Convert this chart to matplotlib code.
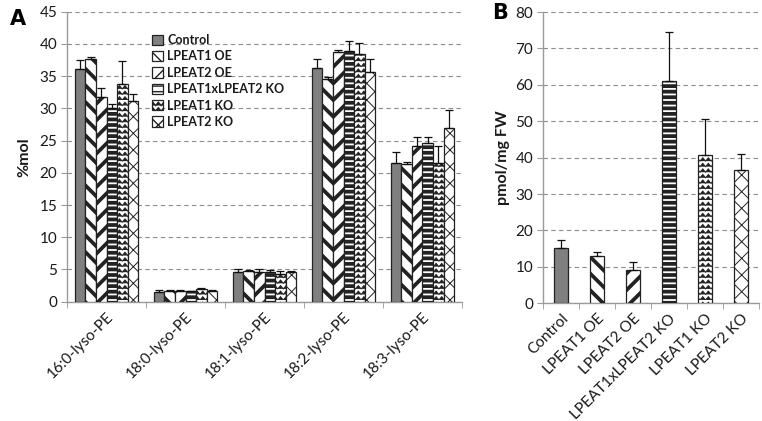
import warnings
warnings.filterwarnings('ignore')
import numpy as np
import matplotlib
matplotlib.use('Agg')
import matplotlib.pyplot as plt
from matplotlib import hatch as mhatch
from matplotlib.path import Path

# ---------------- data ----------------
groups_A = ['16:0-lyso-PE', '18:0-lyso-PE', '18:1-lyso-PE', '18:2-lyso-PE', '18:3-lyso-PE']
lines = ['Control', 'LPEAT1 OE', 'LPEAT2 OE', 'LPEAT1xLPEAT2 KO', 'LPEAT1 KO', 'LPEAT2 KO']

control_A = [36.1, 1.5, 4.6, 36.3, 21.5]
control_A_err = [1.4, 0.3, 0.5, 1.4, 1.7]
lpeat1oe_A = [37.7, 1.6, 4.7, 34.6, 21.4]
lpeat1oe_A_err = [0.3, 0.2, 0.2, 0.3, 0.3]
lpeat2oe_A = [31.7, 1.6, 4.6, 38.7, 24.2]
lpeat2oe_A_err = [1.5, 0.2, 0.4, 0.3, 1.4]
dko_A = [30.0, 1.6, 4.6, 38.9, 24.7]
dko_A_err = [0.7, 0.1, 0.3, 1.6, 0.8]
ko1_A = [33.8, 2.0, 4.3, 38.5, 21.5]
ko1_A_err = [3.5, 0.2, 0.5, 1.6, 2.6]
ko2_A = [31.2, 1.7, 4.6, 35.7, 26.9]
ko2_A_err = [1.1, 0.1, 0.2, 2.0, 2.8]

values_B = [15.2, 13.0, 9.2, 61.1, 40.8, 36.6]
errors_B = [2.1, 1.2, 2.2, 13.4, 9.7, 4.5]

yticks_A = [0, 5, 10, 15, 20, 25, 30, 35, 40, 45]
yticks_B = [0, 10, 20, 30, 40, 50, 60, 70, 80]


# ---------------- custom zigzag hatch ----------------
class _ZigZag(mhatch.HatchPatternBase):
    def __init__(self, hatch, density):
        self.num_rows = hatch.count('z') * density
        self.num_teeth = self.num_rows
        self.num_vertices = self.num_rows * (2 * self.num_teeth + 1)

    def set_vertices_and_codes(self, vertices, codes):
        n, t = self.num_rows, self.num_teeth
        m = 2 * t + 1
        xs = np.linspace(0, 1, m)
        amp = 0.6 / n
        k = 0
        for i in range(n):
            y0 = i / n
            ys = y0 + amp * (np.arange(m) % 2)
            vertices[k:k + m, 0] = xs
            vertices[k:k + m, 1] = ys
            codes[k] = Path.MOVETO
            codes[k + 1:k + m] = Path.LINETO
            k += m


mhatch._hatch_types.append(_ZigZag)

styles = [
    dict(fc='#808080', hatch=None, hlw=1.0),
    dict(fc='white', hatch='\\\\', hlw=2.7),
    dict(fc='white', hatch='//', hlw=2.7),
    dict(fc='white', hatch='---', hlw=2.7),
    dict(fc='white', hatch='zzz', hlw=0.7),
    dict(fc='white', hatch='xx', hlw=0.7),
]

plt.rcParams['font.family'] = ['Lato', 'DejaVu Sans']
TXT = '#1a1a1a'
GRID = '#8c8c8c'
SPINE = '#9a9a9a'

fig = plt.figure(figsize=(7.62, 4.21), dpi=100)
axA = fig.add_axes([67 / 762, 1 - 301.7 / 421, 395 / 762, 290 / 421])
axB = fig.add_axes([543 / 762, 1 - 303.3 / 421, 216 / 762, 291.3 / 421])


def draw_bar(ax, x, h, w, st, err, label=None):
    with plt.rc_context({'hatch.linewidth': st['hlw'], 'hatch.color': 'black'}):
        b = ax.bar(x, h, w, color=st['fc'], edgecolor='#222222', linewidth=0.9,
                   hatch=st['hatch'], label=label, zorder=3)
        for p in b.patches:
            if hasattr(p, 'set_hatch_linewidth'):
                p.set_hatch_linewidth(st['hlw'])
    ax.errorbar(x, h, yerr=[np.zeros(len(np.atleast_1d(h))), err], fmt='none',
                ecolor='#111111', elinewidth=0.9, capsize=3, capthick=0.9, zorder=4)
    return b


# ---------------- Panel A ----------------
series_A = [control_A, lpeat1oe_A, lpeat2oe_A, dko_A, ko1_A, ko2_A]
errs_A = [control_A_err, lpeat1oe_A_err, lpeat2oe_A_err, dko_A_err, ko1_A_err, ko2_A_err]
xg = np.arange(len(groups_A))
bw = 0.8 / 6
handles = []
for i, (vals, errs) in enumerate(zip(series_A, errs_A)):
    b = draw_bar(axA, xg - 0.4 + bw * (i + 0.5), vals, bw, styles[i], errs, label=lines[i])
    handles.append(b)

axA.set_xlim(-0.5, len(groups_A) - 0.5)
axA.set_ylim(0, 45)
axA.set_yticks(yticks_A)
axA.set_xticks(xg)
axA.set_xticklabels(groups_A, rotation=45, ha='right', rotation_mode='anchor')
axA.set_xticks(np.arange(len(groups_A) + 1) - 0.5, minor=True)
axA.set_ylabel('%mol', fontsize=11.5, fontweight='bold', color=TXT, labelpad=6)

leg = fig.legend(handles=handles, labels=lines, loc='upper left',
                 bbox_to_anchor=(152 / 762, 1 - 34 / 421), frameon=False,
                 prop={'weight': 'bold', 'size': 9}, handlelength=0.9,
                 handleheight=0.9, handletextpad=0.3, labelspacing=0.35,
                 borderpad=0, borderaxespad=0)
for t in leg.get_texts():
    t.set_color(TXT)

# ---------------- Panel B ----------------
xb = np.arange(len(lines))
for i in range(len(lines)):
    draw_bar(axB, [xb[i]], [values_B[i]], 0.4, styles[i], [errors_B[i]])
axB.set_xlim(-0.5, len(lines) - 0.5)
axB.set_ylim(0, 80)
axB.set_yticks(yticks_B)
axB.set_xticks(xb)
axB.set_xticklabels(lines, rotation=45, ha='right', rotation_mode='anchor')
axB.set_xticks(np.arange(len(lines) + 1) - 0.5, minor=True)
axB.set_ylabel('pmol/mg FW', fontsize=11.5, fontweight='bold', color=TXT, labelpad=4)

for ax in (axA, axB):
    for s in ('top', 'right'):
        ax.spines[s].set_visible(False)
    for s in ('left', 'bottom'):
        ax.spines[s].set_color(SPINE)
        ax.spines[s].set_linewidth(1.0)
    ax.yaxis.grid(True, linestyle=(0, (4, 3)), color=GRID, linewidth=0.8, zorder=0)
    ax.set_axisbelow(True)
    ax.tick_params(axis='y', direction='out', length=4, color=SPINE, labelsize=11,
                   labelcolor=TXT, pad=3)
    ax.tick_params(axis='x', which='major', length=0, labelsize=11, labelcolor=TXT, pad=6)
    ax.tick_params(axis='x', which='minor', direction='out', length=4, color=SPINE)

fig.text(10 / 762, 1 - 19 / 421, 'A', fontsize=15, fontweight='bold', va='center', ha='left',
         family='DejaVu Sans')
fig.text(492 / 762, 1 - 13 / 421, 'B', fontsize=15, fontweight='bold', va='center', ha='left',
         family='DejaVu Sans')

fig.savefig('out.png', dpi=100)
